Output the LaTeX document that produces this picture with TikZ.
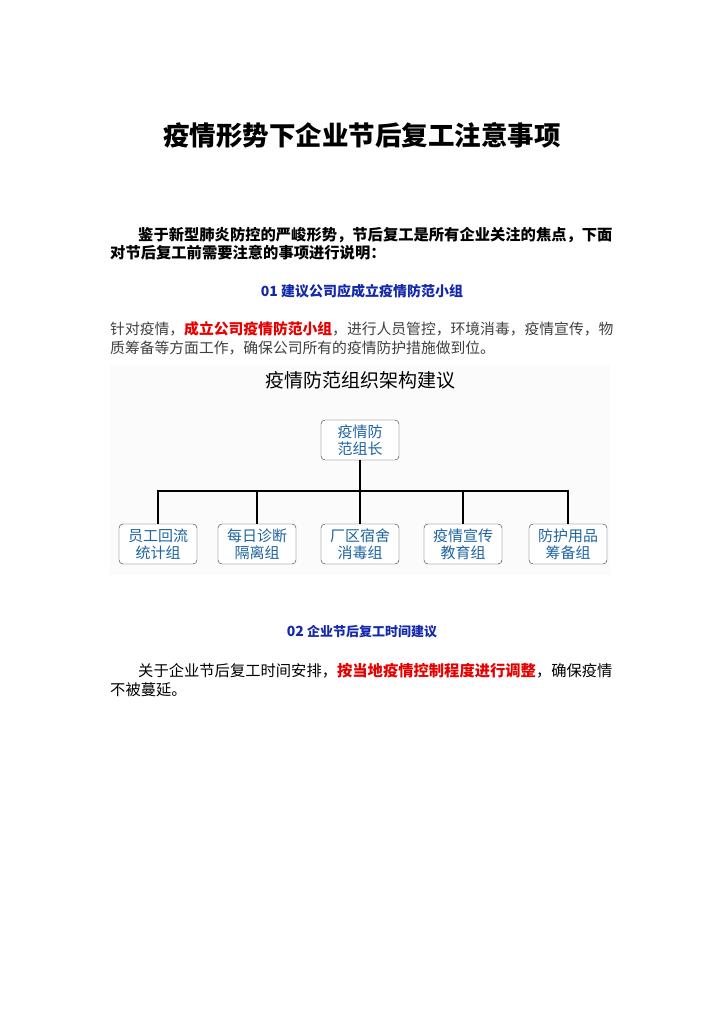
\documentclass[tikz,border=0pt]{standalone}
\usepackage{fontspec}
\setmainfont{Noto Sans CJK SC}
\definecolor{hblue}{RGB}{20,40,170}
\definecolor{bxtext}{RGB}{30,100,160}
\definecolor{hred}{RGB}{230,0,0}
\begin{document}
\begin{tikzpicture}[x=1pt,y=-1pt,
  line/.style={anchor=west,inner sep=0pt},
  orgbox/.style={draw=black!80,rounded corners=4pt,fill=white,minimum width=78pt,minimum height=40pt,align=center,inner sep=0pt,font=\fontsize{15}{17}\selectfont,text=bxtext},
  conn/.style={draw=black,line width=1.3pt}]
\useasboundingbox (0,0) rectangle (724,1024);
\fill[white] (0,0) rectangle (724,1024);
\node (title) at (362,135) {\fontsize{26.5}{30}\selectfont\bfseries 疫情形势下企业节后复工注意事项};
\node[line] (p1) at (138,235) {\fontsize{15.3}{18}\selectfont\bfseries 鉴于新型肺炎防控的严峻形势，节后复工是所有企业关注的焦点，下面};
\node[line] (p2) at (110,253) {\fontsize{15.3}{18}\selectfont\bfseries 对节后复工前需要注意的事项进行说明：};
\node (h1) at (362,291) {\fontsize{14}{17}\selectfont\bfseries\color{hblue} 01 建议公司应成立疫情防范小组};
\node[line] (b1) at (110,329) {\fontsize{14.8}{18}\selectfont\color{black!75}针对疫情，{\bfseries\color{hred}成立公司疫情防范小组}，进行人员管控，环境消毒，疫情宣传，物};
\node[line] (b2) at (110,348) {\fontsize{14.8}{18}\selectfont\color{black!75}质筹备等方面工作，确保公司所有的疫情防护措施做到位。};
\fill[black!1.5] (110,365) rectangle (610,575);
\node (ct) at (360,380) {\fontsize{19}{22}\selectfont 疫情防范组织架构建议};
\node[orgbox] (top) at (360,440) {疫情防\\范组长};
\node[orgbox] (c1) at (158,544) {员工回流\\统计组};
\node[orgbox] (c2) at (257,544) {每日诊断\\隔离组};
\node[orgbox] (c3) at (360,544) {厂区宿舍\\消毒组};
\node[orgbox] (c4) at (463,544) {疫情宣传\\教育组};
\node[orgbox] (c5) at (568,544) {防护用品\\筹备组};
\coordinate (hub) at (360,491);
\draw[conn] (top.south) -- (hub);
\draw[conn] (c1.north) |- (hub) -| (c5.north);
\foreach \c in {c2,c3,c4} \draw[conn] (\c.north) -- (\c.north |- hub);
\node (h2) at (362,632) {\color{hblue}\fontsize{14}{17}\selectfont\bfseries 02 {\fontsize{13}{16}\selectfont 企业节后复工时间建议}};
\node[line] (q1) at (138,671) {\fontsize{15.3}{18}\selectfont 关于企业节后复工时间安排，{\bfseries\color{hred}按当地疫情控制程度进行调整}，确保疫情};
\node[line] (q2) at (110,690) {\fontsize{15.3}{18}\selectfont 不被蔓延。};
\end{tikzpicture}
\end{document}
